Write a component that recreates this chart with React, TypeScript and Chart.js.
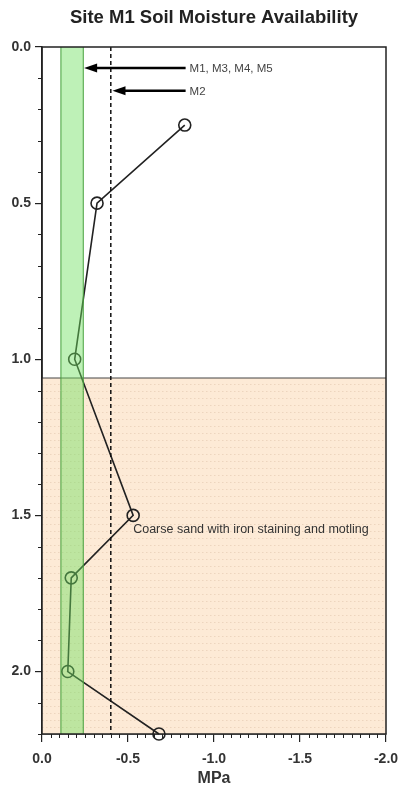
import React, { useEffect, useRef } from "react";
import { Chart, registerables } from "chart.js";

Chart.register(...registerables);

// Depth (m) and soil water potential (MPa)
const depths = [0.25, 0.5, 1.0, 1.5, 1.7, 2.0, 2.2];
const suction = [-0.83, -0.32, -0.19, -0.53, -0.17, -0.15, -0.68];

const xTickValues = [0, -0.5, -1.0, -1.5, -2.0];
const yTickValues = [0, 0.5, 1.0, 1.5, 2.0];

const bandRange = [-0.11, -0.24];
const dashedAt = [-0.4];
const horizonDepth = [1.06];

const arrowLabels = ["M1, M3, M4, M5", "M2"];
const arrowDepths = [0.067, 0.14];
const arrowTips = [-0.245, -0.41];
const arrowTails = [-0.835, -0.835];

const noteText = ["Coarse sand with iron staining and motling"];
const notePos = [-0.53, 1.545];

const titleText = "Site M1 Soil Moisture Availability";

const FONT = '"Liberation Sans", Arial, sans-serif';

const overlayPlugin = {
  id: "overlay",
  beforeDatasetsDraw(chart: any) {
    const { ctx, chartArea, scales } = chart;
    const ys = scales.y;
    const yh = ys.getPixelForValue(horizonDepth[0]);
    ctx.save();
    ctx.fillStyle = "rgb(253,234,214)";
    ctx.fillRect(chartArea.left, yh, chartArea.right - chartArea.left, chartArea.bottom - yh);
    // faint dotted texture
    ctx.strokeStyle = "rgba(205,175,145,0.35)";
    ctx.lineWidth = 1;
    ctx.setLineDash([1.5, 2.5]);
    for (let y = yh + 6; y < chartArea.bottom; y += 7) {
      ctx.beginPath();
      ctx.moveTo(chartArea.left, Math.round(y) + 0.5);
      ctx.lineTo(chartArea.right, Math.round(y) + 0.5);
      ctx.stroke();
    }
    ctx.setLineDash([]);
    ctx.strokeStyle = "#444";
    ctx.lineWidth = 1;
    ctx.beginPath();
    ctx.moveTo(chartArea.left, yh);
    ctx.lineTo(chartArea.right, yh);
    ctx.stroke();
    ctx.restore();
  },
  afterDatasetsDraw(chart: any) {
    const { ctx, chartArea, scales } = chart;
    const xs = scales.x;
    const ys = scales.y;
    ctx.save();
    // green band
    const b1 = xs.getPixelForValue(bandRange[0]);
    const b2 = xs.getPixelForValue(bandRange[1]);
    ctx.fillStyle = "rgba(110,225,95,0.45)";
    ctx.fillRect(b1, chartArea.top, b2 - b1, chartArea.bottom - chartArea.top);
    ctx.strokeStyle = "rgb(70,160,60)";
    ctx.lineWidth = 1;
    ctx.beginPath();
    ctx.moveTo(b1, chartArea.top);
    ctx.lineTo(b1, chartArea.bottom);
    ctx.moveTo(b2, chartArea.top);
    ctx.lineTo(b2, chartArea.bottom);
    ctx.stroke();

    // dashed line
    const dx = xs.getPixelForValue(dashedAt[0]);
    ctx.strokeStyle = "#111";
    ctx.lineWidth = 1.5;
    ctx.setLineDash([4, 3]);
    ctx.beginPath();
    ctx.moveTo(dx, chartArea.top);
    ctx.lineTo(dx, chartArea.bottom);
    ctx.stroke();
    ctx.setLineDash([]);

    // arrows
    arrowLabels.forEach((label, i) => {
      const y = ys.getPixelForValue(arrowDepths[i]);
      const tip = xs.getPixelForValue(arrowTips[i]);
      const tail = xs.getPixelForValue(arrowTails[i]);
      ctx.strokeStyle = "#000";
      ctx.lineWidth = 2.5;
      ctx.beginPath();
      ctx.moveTo(tip + 10, y);
      ctx.lineTo(tail, y);
      ctx.stroke();
      ctx.fillStyle = "#000";
      ctx.beginPath();
      ctx.moveTo(tip, y);
      ctx.lineTo(tip + 13, y - 4.5);
      ctx.lineTo(tip + 13, y + 4.5);
      ctx.closePath();
      ctx.fill();
      ctx.fillStyle = "#444";
      ctx.font = `11.5px ${FONT}`;
      ctx.textAlign = "left";
      ctx.textBaseline = "middle";
      ctx.fillText(label, tail + 4, y + 1);
    });

    // note
    ctx.fillStyle = "#333";
    ctx.font = `12.5px ${FONT}`;
    ctx.textAlign = "left";
    ctx.textBaseline = "middle";
    ctx.fillText(noteText[0], xs.getPixelForValue(notePos[0]), ys.getPixelForValue(notePos[1]));

    // frame
    ctx.strokeStyle = "#222";
    ctx.lineWidth = 1.5;
    ctx.strokeRect(chartArea.left, chartArea.top, chartArea.right - chartArea.left, chartArea.bottom - chartArea.top);
    ctx.restore();
  },
  afterDraw(chart: any) {
    const { ctx, chartArea, scales } = chart;
    const xs = scales.x;
    const ys = scales.y;
    ctx.save();
    // title centred over the plot area
    ctx.fillStyle = "#222";
    ctx.font = `bold 18.5px ${FONT}`;
    ctx.textAlign = "center";
    ctx.textBaseline = "middle";
    ctx.fillText(titleText, (chartArea.left + chartArea.right) / 2, 18);

    ctx.strokeStyle = "#222";
    ctx.lineWidth = 1;
    // minor y ticks every 0.1
    for (let i = 1; i <= 22; i++) {
      if (i % 5 === 0) continue;
      const y = Math.round(ys.getPixelForValue(i / 10)) + 0.5;
      ctx.beginPath();
      ctx.moveTo(chartArea.left - 4, y);
      ctx.lineTo(chartArea.left, y);
      ctx.stroke();
    }
    // minor x ticks every 0.05
    for (let i = 1; i <= 40; i++) {
      if (i % 10 === 0) continue;
      const x = Math.round(xs.getPixelForValue(-i / 20)) + 0.5;
      ctx.beginPath();
      ctx.moveTo(x, chartArea.bottom);
      ctx.lineTo(x, chartArea.bottom + 4);
      ctx.stroke();
    }
    ctx.restore();
  },
};

export default function App() {
  const ref = useRef<HTMLCanvasElement>(null);
  useEffect(() => {
    if (!ref.current) return;
    const chart = new Chart(ref.current, {
      type: "scatter",
      data: {
        datasets: [
          {
            data: depths.map((d, i) => ({ x: suction[i], y: d })),
            showLine: true,
            clip: false,
            borderColor: "#222",
            borderWidth: 1.6,
            pointRadius: 6,
            pointBorderWidth: 1.6,
            pointBorderColor: "#222",
            pointBackgroundColor: "rgba(0,0,0,0)",
            pointStyle: "circle",
          },
        ],
      },
      options: {
        responsive: false,
        animation: false,
        layout: { padding: { left: 0, right: 17, top: 47, bottom: 0 } },
        plugins: {
          legend: { display: false },
          tooltip: { enabled: false },
          title: { display: false },
        },
        scales: {
          x: {
            type: "linear",
            position: "bottom",
            min: -2,
            max: 0,
            reverse: true,
            afterBuildTicks: (s: any) => {
              s.ticks = xTickValues.map((v) => ({ value: v }));
            },
            afterFit: (s: any) => {
              s.height = 58;
              s.paddingLeft = 0;
              s.paddingRight = 0;
            },
            ticks: {
              callback: (v: any) => Number(v).toFixed(1),
              color: "#333",
              font: { family: FONT, size: 14, weight: "bold" },
              padding: 9,
              maxRotation: 0,
            },
            grid: { drawOnChartArea: false, tickLength: 8, color: "#222", lineWidth: 1.2 },
            border: { display: true, color: "#222", width: 1.5 },
            title: {
              display: true,
              text: "MPa",
              color: "#333",
              font: { family: FONT, size: 16, weight: "bold" },
              padding: { top: 0, bottom: 4 },
            },
          },
          y: {
            type: "linear",
            min: 0,
            max: 2.2,
            reverse: true,
            afterBuildTicks: (s: any) => {
              s.ticks = yTickValues.map((v) => ({ value: v }));
            },
            afterFit: (s: any) => {
              s.width = 42;
              s.paddingTop = 0;
              s.paddingBottom = 0;
            },
            ticks: {
              callback: (v: any) => Number(v).toFixed(1),
              color: "#333",
              font: { family: FONT, size: 14, weight: "bold" },
              padding: 4,
            },
            grid: { drawOnChartArea: false, tickLength: 7, color: "#222", lineWidth: 1.2 },
            border: { display: true, color: "#222", width: 1.5 },
          },
        },
      },
      plugins: [overlayPlugin],
    });
    return () => chart.destroy();
  }, []);
  return (
    <div style={{ position: "fixed", left: 0, top: 0, width: 403, height: 792, background: "#fff" }}>
      <canvas ref={ref} width={403} height={792} />
    </div>
  );
}
